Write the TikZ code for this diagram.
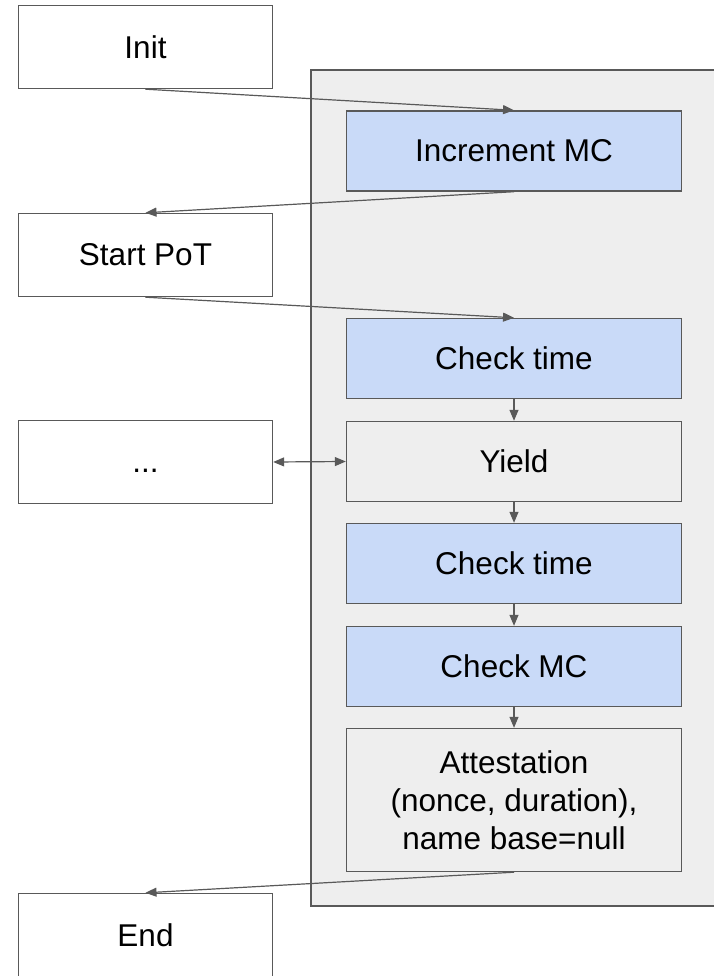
\documentclass[tikz,border=0pt]{standalone}
\usepackage{fontspec}
\setmainfont{Liberation Sans}
\usetikzlibrary{arrows.meta}
\definecolor{edge}{HTML}{595959}
\definecolor{stepblue}{HTML}{C9DAF8}
\definecolor{panelgray}{HTML}{EEEEEE}
\begin{document}
\begin{tikzpicture}[x=1pt,y=-1pt,
  txt/.style={font=\fontsize{31.5}{38}\selectfont, text=black, align=center},
  outerbox/.style={txt, draw=edge, line width=1.4pt, fill=white,
    minimum width=254pt, minimum height=83pt, inner sep=0pt},
  innerbox/.style={txt, draw=edge, line width=1.4pt,
    minimum width=335pt, minimum height=80pt, inner sep=0pt},
  bluebox/.style={innerbox, fill=stepblue},
  graybox/.style={innerbox, fill=panelgray},
  tip/.tip={Triangle[length=11pt,width=9pt]},
  flow/.style={draw=edge, line width=1.2pt, -tip},
  biflow/.style={draw=edge, line width=1.2pt, tip-tip}
]
\useasboundingbox (0,0) rectangle (713,976);
\fill[white] (0,0) rectangle (713,976);

% panel holding the attestation steps
\draw[draw=edge, line width=1.4pt, fill=panelgray] (311,70) rectangle (730,906);

% left column
\node[outerbox] (init)  at (145.5,47)  {Init};
\node[outerbox] (start) at (145.5,255) {Start PoT};
\node[outerbox] (dots)  at (145.5,462) {\vphantom{I}...};
\node[outerbox] (endb)  at (145.5,935) {End};

% right column
\node[bluebox] (inc)   at (514,151)   {Increment MC};
\node[bluebox] (ct1)   at (514,358.5) {Check time};
\node[graybox] (yield) at (514,461.5) {Yield};
\node[bluebox] (ct2)   at (514,563.5) {Check time};
\node[bluebox] (cmc)   at (514,666.5) {Check MC};
\node[graybox, minimum height=143pt] (att) at (514,800)
  {Attestation\\(nonce, duration),\\name base=null};

% connectors
\draw[flow] (init.south)  -- (inc.north);
\draw[flow] (inc.south)   -- (start.north);
\draw[flow] (start.south) -- (ct1.north);
\draw[flow] (ct1.south)   -- (yield.north);
\draw[biflow] (dots.east) -- (yield.west);
\draw[flow] (yield.south) -- (ct2.north);
\draw[flow] (ct2.south)   -- (cmc.north);
\draw[flow] (cmc.south)   -- (att.north);
\draw[flow] (att.south)   -- (endb.north);
\end{tikzpicture}
\end{document}
